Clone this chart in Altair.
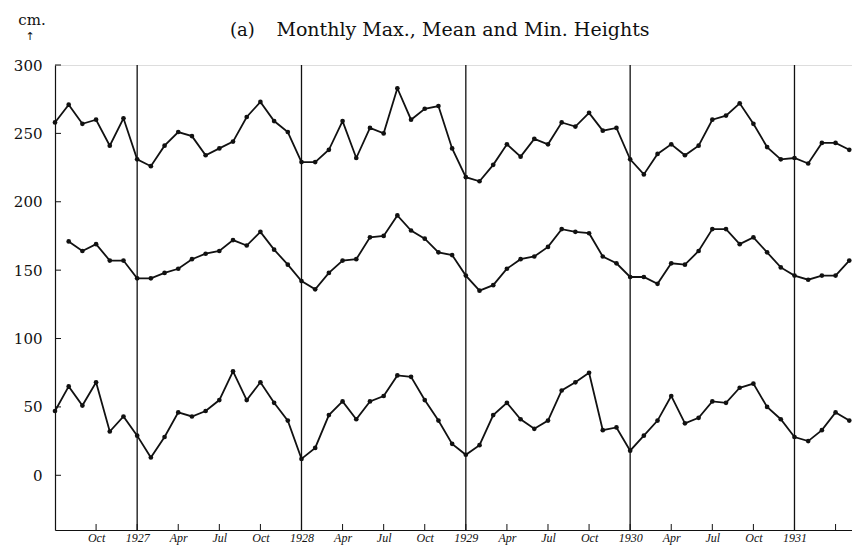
import altair as alt
import pandas as pd

# Month index 0 = Jul 1926 ... 58 = May 1931
max_h = [258, 271, 257, 260, 241, 261,
         231, 226, 241, 251, 248, 234, 239, 244, 262, 273, 259, 251,
         229, 229, 238, 259, 232, 254, 250, 283, 260, 268, 270, 239,
         218, 215, 227, 242, 233, 246, 242, 258, 255, 265, 252, 254,
         231, 220, 235, 242, 234, 241, 260, 263, 272, 257, 240, 231,
         232, 228, 243, 243, 238]
mean_h = [None, 171, 164, 169, 157, 157,
          144, 144, 148, 151, 158, 162, 164, 172, 168, 178, 165, 154,
          142, 136, 148, 157, 158, 174, 175, 190, 179, 173, 163, 161,
          146, 135, 139, 151, 158, 160, 167, 180, 178, 177, 160, 155,
          145, 145, 140, 155, 154, 164, 180, 180, 169, 174, 163, 152,
          146, 143, 146, 146, 157]
min_h = [47, 65, 51, 68, 32, 43,
         29, 13, 28, 46, 43, 47, 55, 76, 55, 68, 53, 40,
         12, 20, 44, 54, 41, 54, 58, 73, 72, 55, 40, 23,
         15, 22, 44, 53, 41, 34, 40, 62, 68, 75, 33, 35,
         18, 29, 40, 58, 38, 42, 54, 53, 64, 67, 50, 41,
         28, 25, 33, 46, 40]

tick_idx = [3, 6, 9, 12, 15, 18, 21, 24, 27, 30, 33, 36, 39, 42, 45, 48, 51, 54, 57]
tick_labels = ["Oct", "1927", "Apr", "Jul", "Oct", "1928", "Apr", "Jul", "Oct",
               "1929", "Apr", "Jul", "Oct", "1930", "Apr", "Jul", "Oct", "1931", ""]
year_idx = [6, 18, 30, 42, 54]
y_ticks = [0, 50, 100, 150, 200, 250, 300]

title_prefix = "(a)"
title_main = "Monthly Max., Mean and Min. Heights"
unit_text = "cm."
arrow_text = "↑"

rows = []
for name, vals in (("max", max_h), ("mean", mean_h), ("min", min_h)):
    for i, v in enumerate(vals):
        if v is not None:
            rows.append({"series": name, "idx": i, "value": v})
df = pd.DataFrame(rows)

W, H = 797, 465
XDOM = [0, 58.2]
YDOM = [-40, 300]

label_expr = "{" + ", ".join(f"'{i}': '{l}'" for i, l in zip(tick_idx, tick_labels)) + "}[datum.value]"

xs = alt.Scale(domain=XDOM, nice=False, zero=False)
ys = alt.Scale(domain=YDOM, nice=False, zero=False)

x_axis = alt.Axis(values=tick_idx, labelExpr=label_expr, ticks=False, grid=False,
                  domain=True, domainColor="#111", domainWidth=1.2,
                  labelFont="Liberation Serif", labelFontStyle="italic",
                  labelFontSize=12, labelColor="#111", labelPadding=2, title=None)
y_axis = alt.Axis(values=y_ticks, ticks=False, grid=False, domain=True,
                  domainColor="#111", domainWidth=1.2,
                  labelFont="DejaVu Serif", labelFontSize=15, labelColor="#111",
                  labelPadding=13, title=None)

base = alt.Chart(df)
lines = base.mark_line(color="#111", strokeWidth=1.8).encode(
    x=alt.X("idx:Q", scale=xs, axis=x_axis),
    y=alt.Y("value:Q", scale=ys, axis=y_axis),
    detail="series:N",
)
points = base.mark_circle(color="#111", size=22, opacity=1).encode(
    x=alt.X("idx:Q", scale=xs),
    y=alt.Y("value:Q", scale=ys),
)

years = alt.Chart(pd.DataFrame({"idx": year_idx})).mark_rule(color="#111", strokeWidth=1.3).encode(
    x=alt.X("idx:Q", scale=xs), y=alt.value(0), y2=alt.value(H))

xticks = alt.Chart(pd.DataFrame({"idx": tick_idx})).mark_rule(color="#111", strokeWidth=1).encode(
    x=alt.X("idx:Q", scale=xs), y=alt.value(H), y2=alt.value(H - 6))

yticks = alt.Chart(pd.DataFrame({"v": y_ticks})).mark_rule(color="#111", strokeWidth=1).encode(
    y=alt.Y("v:Q", scale=ys), x=alt.value(0), x2=alt.value(6))

t_prefix = alt.Chart(pd.DataFrame({"t": [title_prefix]})).mark_text(
    font="DejaVu Serif", fontSize=18, color="#111", align="left", baseline="alphabetic"
).encode(text="t:N", x=alt.value(175), y=alt.value(-29))

t_main = alt.Chart(pd.DataFrame({"t": [title_main]})).mark_text(
    font="DejaVu Serif", fontSize=19, color="#111", align="center", baseline="alphabetic"
).encode(text="t:N", x=alt.value(408), y=alt.value(-29))

t_unit = alt.Chart(pd.DataFrame({"t": [unit_text]})).mark_text(
    font="DejaVu Serif", fontSize=15, color="#111", align="center", baseline="alphabetic"
).encode(text="t:N", x=alt.value(-23), y=alt.value(-40))

t_arrow = alt.Chart(pd.DataFrame({"t": [arrow_text]})).mark_text(
    font="DejaVu Sans", fontSize=11, color="#111", align="center", baseline="top"
).encode(text="t:N", x=alt.value(-25), y=alt.value(-34))

chart = alt.layer(years, xticks, yticks, lines, points, t_prefix, t_main, t_unit, t_arrow).properties(
    width=W, height=H,
    autosize=alt.AutoSizeParams(type="none"),
    padding={"left": 47, "top": 57, "right": 0, "bottom": 17},
).configure_view(strokeWidth=0, stroke="transparent").configure(background="white")

chart.save("out.html", embed_options={"renderer": "svg", "actions": False})
